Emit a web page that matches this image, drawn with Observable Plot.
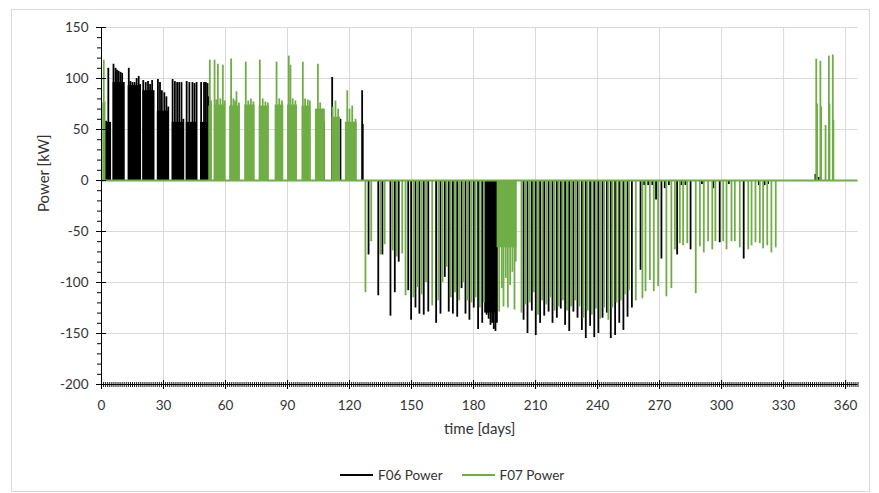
<!DOCTYPE html>
<html>
<head>
<meta charset="utf-8">
<script src="https://cdn.jsdelivr.net/npm/d3@7"></script>
<script src="https://cdn.jsdelivr.net/npm/@observablehq/plot@0.6"></script>
<style>
  body { margin: 0; background: #fff; font-family: Lato, "Open Sans", sans-serif; }
  #wrap { position: relative; width: 879px; height: 493px; overflow: hidden; }
  #frame { position: absolute; left: 11px; top: 9px; width: 859px; height: 483px; border: 1px solid #d9d9d9; box-sizing: border-box; pointer-events: none; }
  #legend { position: absolute; left: 340px; top: 455px; height: 40px; display: flex; align-items: center; font-size: 13.5px; color: #333; }
  .item { display: flex; align-items: center; margin-right: 19px; }
  .sw { width: 33px; height: 2px; margin-right: 5px; }
</style>
</head>
<body>
<div id="wrap">
  <div id="chart"></div>
  <div id="legend"></div>
  <div id="frame"></div>
</div>
<script>
// ---------- data (days, kW) ----------
const seriesNames = ["F06 Power", "F07 Power"];
const seriesColors = ["#000000", "#70AD47"];

const xMajorTicks = [0, 30, 60, 90, 120, 150, 180, 210, 240, 270, 300, 330, 360];
const yMajorTicks = [-200, -150, -100, -50, 0, 50, 100, 150];

// F06: dense operating blocks [startDay, endDay, solid level]
const f06Blocks = [
  [2, 4.5, 57], [5.6, 11, 96], [12.9, 18.9, 93], [20, 25.3, 88], [27, 32.7, 68],
  [34.2, 39.8, 57], [41, 46.2, 57], [47.9, 52, 57],
  [185.4, 191.5, -130]
];
// F06: individual spikes [day, kW]
const f06Spikes = [
  [2.2, 58], [3.3, 110], [4.2, 57],
  [5.8, 114], [6.8, 110], [7.5, 108], [8.3, 107], [9.2, 106], [10, 105], [10.8, 96],
  [13.2, 110], [14, 97], [15, 96], [16, 96], [17, 100], [18, 102], [18.7, 94],
  [20.2, 98], [21.4, 96], [22.5, 97], [23.5, 94], [24.5, 98], [25.2, 88],
  [27.3, 99], [28.3, 96], [29.2, 88], [30.4, 86], [31.4, 82], [32.3, 72],
  [34.4, 99], [35.5, 97], [36.6, 96], [37.6, 96], [38.7, 96], [39.6, 60],
  [41.2, 97], [42.5, 96], [44, 96], [45, 95], [46, 96],
  [48.2, 96], [49.6, 96], [50.5, 96], [51.3, 95], [51.8, 82],
  [107.6, 57], [111.6, 101], [113.7, 54], [115.6, 60], [119.7, 57], [122, 57], [126.1, 88], [126.4, 55],
  [129.2, -73], [133.9, -113], [135.9, -73], [139.8, -133], [141.9, -110], [143.8, -80],
  [148.4, -108], [149.8, -137], [151.9, -125], [153.8, -131], [155.9, -132], [158.1, -129],
  [161.9, -140], [164.0, -131], [166.1, -95], [168.0, -129], [170.0, -131], [172.1, -134],
  [174.2, -106], [176.1, -131], [178.0, -137], [180.1, -125], [182.2, -146], [184.2, -140],
  [186.3, -132], [187.3, -136], [188.2, -142], [189, -140], [189.8, -146], [190.6, -148], [191.3, -140],
  [204.2, -137], [206.1, -150], [208.2, -128], [210.1, -152], [212.2, -140], [214.2, -133],
  [216.3, -129], [218.2, -140], [220.3, -135], [222.2, -126], [224.3, -142], [226.3, -148],
  [228.3, -129], [230.3, -135], [232.4, -147], [234.3, -155], [236.4, -143], [238.4, -154],
  [240.4, -150], [242.4, -135], [244.5, -130], [246.4, -155], [248.5, -152], [250.5, -140],
  [252.5, -147], [254.5, -134], [256.6, -125],
  [260.8, -88], [262.5, -5], [264.5, -5], [266.5, -5], [268.3, -19], [270.9, -77], [272.5, -8],
  [274.5, -5], [278.5, -73], [280.5, -5], [282.5, -5], [285, -68], [290.5, -4], [296, -8],
  [299.1, -61], [303.5, -4], [310.7, -77], [318, -5], [320.8, -5], [322.5, -4],
  [345.4, 6], [347, 3]
];

// F07: dense operating blocks [startDay, endDay, solid level]
const f07Blocks = [
  [0.6, 1.8, 76], [51.9, 53.3, 73], [54.6, 60, 74], [62, 67, 73], [69.3, 74.3, 74],
  [76.3, 81, 73], [84, 88.2, 74], [90, 94.8, 74], [97, 101.3, 73], [103.5, 108.3, 70],
  [111.5, 115.6, 62], [118, 123.7, 57],
  [191.4, 201, -66]
];
// F07: individual spikes [day, kW]
const f07Spikes = [
  [1.1, 118], [1.5, 77],
  [52.4, 118], [53, 78], [54.7, 118], [55.5, 79], [56.3, 114], [57.5, 80], [58.7, 113], [59.6, 78],
  [62.7, 119], [63.8, 80], [64.6, 78], [65.3, 87], [66.5, 76],
  [69.8, 116], [71, 78], [72.3, 80], [73.5, 77],
  [76.6, 118], [78, 80], [79.3, 77], [80.5, 76],
  [84.7, 116], [86, 80], [87.3, 78],
  [90.6, 122], [91.4, 113], [92.5, 80], [93.8, 78],
  [97.4, 116], [98.5, 80], [99.8, 79], [100.8, 78],
  [104.7, 114], [105.8, 76], [107.1, 70],
  [111.8, 72], [113.2, 78], [114.5, 70],
  [118.9, 88], [120, 70], [121.3, 73], [122.9, 60],
  [127.7, -110], [130.5, -60], [134.9, -73], [137, -63], [140.9, -69], [142.9, -75],
  [145.5, -72], [147.1, -113], [150.9, -115], [152.9, -105], [154.9, -112], [157, -100],
  [160, -123], [163, -118], [165, -100], [167, -85], [169, -115], [171, -110], [173, -118],
  [175, -100], [177, -118], [179, -120], [181, -115], [183, -125], [185, -120],
  [192.4, -129], [193.7, -106], [194.5, -124], [195.6, -96], [196.6, -125], [197.7, -103],
  [198.8, -90], [199.8, -127], [200.4, -80],
  [203.2, -130], [205.2, -122], [207.2, -120], [209.2, -110], [211.2, -132], [213.2, -118],
  [215.2, -122], [217.2, -115], [219.2, -128], [221.2, -124], [223.2, -118], [225.2, -128],
  [227.2, -124], [229.2, -118], [231.2, -124], [233.2, -135], [235.2, -128], [237.2, -132],
  [239.2, -126], [241.2, -136], [243.2, -125], [245.2, -137], [247.2, -125], [249.2, -120],
  [251.2, -118], [253.2, -112], [255.2, -108], [258.5, -118],
  [261.7, -116], [263.2, -109], [265.3, -98], [267.2, -109], [269.3, -104], [273.3, -114],
  [275.7, -106], [277.4, -68], [279.8, -62], [281.4, -64], [283.4, -62], [287.5, -111],
  [289.5, -65], [291.4, -71], [293.5, -60], [295.5, -68], [297.0, -60], [300.8, -60],
  [302.4, -68], [304.8, -60], [306.4, -60], [308.8, -66], [312.9, -68], [314.5, -64],
  [316.4, -61], [318.5, -62], [320.1, -67], [322.1, -64], [324.1, -71], [326.2, -66],
  [345.8, 119], [346.2, 75], [347.8, 117], [348.2, 72], [350.3, 54], [351.9, 122],
  [352.2, 75], [353.8, 123], [354.1, 59]
];

// ---------- chart ----------
const xMinorTicks = d3.range(0, 367, 1);
const yMinorTicks = d3.range(-200, 151, 10);
const grid = "#d9d9d9";
const txt = "#333333";
const fmt = d => String(d);

const chart = Plot.plot({
  width: 879,
  height: 455,
  marginLeft: 101,
  marginRight: 21.5,
  marginTop: 27,
  marginBottom: 71,
  x: { domain: [0, 366] },
  y: { domain: [-200, 150] },
  style: { fontFamily: "Lato, 'Open Sans', sans-serif", fontSize: "13px", color: txt, background: "white" },
  marks: [
    Plot.ruleX(xMajorTicks.filter(d => d > 0), { stroke: grid, strokeWidth: 1 }),
    Plot.ruleY(yMajorTicks.filter(d => d > -200), { stroke: grid, strokeWidth: 1 }),

    // F06 (drawn first)
    Plot.rect(f06Blocks, { x1: d => d[0], x2: d => d[1], y1: d => 0, y2: d => d[2], fill: seriesColors[0] }),
    Plot.ruleX(f06Spikes, { x: d => d[0], y1: d => 0, y2: d => d[1], stroke: seriesColors[0], strokeWidth: 1.8 }),

    // F07 (on top)
    Plot.rect(f07Blocks, { x1: d => d[0], x2: d => d[1], y1: d => 0, y2: d => d[2], fill: seriesColors[1] }),
    Plot.ruleX(f07Spikes, { x: d => d[0], y1: d => 0, y2: d => d[1], stroke: seriesColors[1], strokeWidth: 1.8 }),
    Plot.ruleY([0], { stroke: seriesColors[1], strokeWidth: 2 }),

    // axis lines
    Plot.ruleX([0], { stroke: "#000", strokeWidth: 1 }),
    Plot.ruleY([-200], { stroke: "#000", strokeWidth: 1.2 }),

    // y axis
    Plot.axisY(yMajorTicks, { tickSize: 5, tickPadding: 8, tickFormat: fmt, label: null, fontSize: 13.5, fill: txt, stroke: "#000" }),
    Plot.axisY(yMajorTicks, { tickSize: -5, tickFormat: () => "", label: null, stroke: "#000" }),
    Plot.axisY(yMinorTicks, { tickSize: 4, tickFormat: () => "", label: null, stroke: "#000" }),

    // x axis
    Plot.axisX(xMajorTicks, { tickSize: 5, tickPadding: 11, tickFormat: fmt, label: null, fontSize: 13.5, fill: txt, stroke: "#000" }),
    Plot.axisX(xMajorTicks, { tickSize: -4, tickFormat: () => "", label: null, stroke: "#000" }),
    Plot.axisX(xMinorTicks, { tickSize: 3, tickFormat: () => "", label: null, stroke: "#000", strokeWidth: 0.9 }),
    Plot.axisX(xMinorTicks, { tickSize: -2, tickFormat: () => "", label: null, stroke: "#000", strokeWidth: 0.9 }),

    // axis titles
    Plot.text(["time [days]"], { frameAnchor: "bottom", dy: 49, fontSize: 15, fill: txt }),
    Plot.text(["Power [kW]"], { frameAnchor: "left", dx: -57, dy: 6, rotate: -90, fontSize: 15, fill: txt })
  ]
});
document.getElementById("chart").appendChild(chart);

// legend
const legend = document.getElementById("legend");
seriesNames.forEach((name, i) => {
  const item = document.createElement("div");
  item.className = "item";
  const sw = document.createElement("span");
  sw.className = "sw";
  sw.style.background = seriesColors[i];
  const t = document.createElement("span");
  t.textContent = name;
  item.appendChild(sw);
  item.appendChild(t);
  legend.appendChild(item);
});
</script>
</body>
</html>
